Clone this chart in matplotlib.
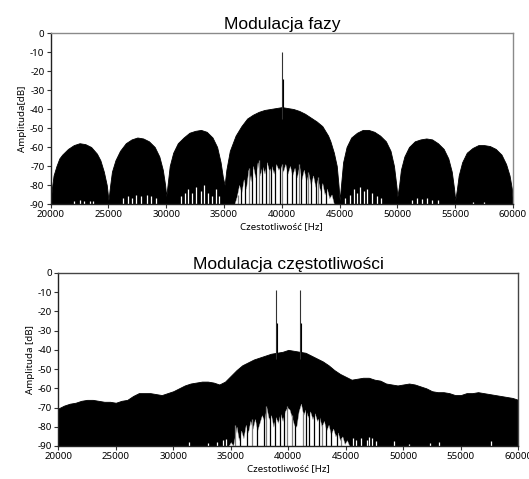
import matplotlib
matplotlib.use("Agg")
import matplotlib.pyplot as plt

plt.rcParams['axes.unicode_minus'] = False

# ---------------- data: phase modulation (top) ----------------
pm_freq = [20000, 20100, 20250, 20500, 20750, 21000, 21500, 22000, 22500, 23000, 23500, 24000, 24300, 24600, 24850, 25000,
           25150, 25300, 25600, 26000, 26500, 27000, 27500, 28000, 28500, 29000, 29400, 29700, 29900, 30000,
           30150, 30300, 30600, 31000, 31500, 32000, 32500, 33000, 33500, 34000, 34400, 34700, 34900, 35050,
           35200, 35500, 36000, 36500, 37000, 37500, 38000, 38500, 39000, 39500, 40000, 40500, 41000, 41500,
           42000, 42500, 43000, 43500, 44000, 44200, 44500, 44750, 44900, 45000,
           45150, 45300, 45600, 46000, 46500, 47000, 47500, 48000, 48500, 49000, 49400, 49700, 49900, 50000,
           50150, 50300, 50600, 51000, 51500, 52000, 52500, 53000, 53500, 54000, 54400, 54700, 54900, 55000,
           55150, 55300, 55600, 56000, 56500, 57000, 57500, 58000, 58500, 59000, 59400, 59700, 59900, 60000]
pm_level = [-90, -82, -75, -70, -66, -64, -61, -59, -58, -58.5, -60, -63.5, -67, -73, -80, -88,
            -80, -73, -67, -62, -58, -56, -55, -55.5, -57, -60, -65, -72, -80, -86,
            -78, -70, -63, -58, -55, -52.5, -51.5, -51, -52, -55, -60, -68, -76, -80,
            -72, -62, -54, -49, -45, -43, -41.5, -40.5, -40, -39.5, -39, -39.5, -40, -41,
            -42.5, -44.5, -46.5, -49, -54, -57, -63, -70, -80, -88,
            -78, -68, -60, -55, -52.5, -51, -51, -52, -54, -57, -62, -70, -80, -86,
            -80, -72, -65, -60, -57, -56, -55.5, -56, -58, -61, -66, -73, -82, -88,
            -82, -75, -68, -63, -60.5, -59, -59, -59.5, -61, -64, -69, -75, -82, -90]

# white gaps at the bottom of the main lobe (upper edge of the white region)
pm_gap_freq = [35900, 36100, 36300, 36500, 36700, 36900, 37100, 37300, 37500, 37700, 37900, 38100, 38300, 38500,
               38700, 38900, 39100, 39300, 39500, 39700, 39900, 40100, 40300, 40500, 40700, 40900, 41100, 41300,
               41500, 41700, 41900, 42100, 42300, 42500, 42700, 42900, 43100, 43300, 43500, 43700, 43900, 44100,
               44300, 44500]
pm_gap_top = [-90, -86, -80, -84, -77, -82, -72, -78, -70, -76, -68, -75, -70, -74,
              -68, -73, -70, -74, -69, -72, -70, -73, -69, -74, -70, -75, -71, -76,
              -70, -77, -72, -78, -74, -80, -75, -81, -77, -83, -79, -85, -82, -87,
              -85, -90]
# black stripes reaching the floor inside the white region
pm_dark_lines = [36450, 36850, 37380, 37750, 38250, 38650, 39050, 39450, 39800, 40450,
                 40850, 41250, 41650, 42050, 42500, 42950, 43400, 43850]
pm_grey_lines = [36200, 37150, 38000, 38850, 40000, 41450, 42250, 43150]

pm_speck_freq = [22000, 22500, 22900, 23400, 23700,
                 26300, 26700, 27000, 27400, 27800, 28300, 28700, 29100,
                 31300, 31600, 31900, 32200, 32600, 33000, 33300, 33600, 34000, 34300, 34600,
                 45500, 45900, 46200, 46500, 46800, 47100, 47400, 47800, 48200, 48600,
                 51300, 51700, 52100, 52600, 53000, 53500, 56500, 57500]
pm_speck_top = [-88.5, -88, -88.5, -88.5, -88.5,
                -87, -86, -87, -85, -86, -85.5, -86, -87,
                -86, -84, -82, -84, -81, -83, -80, -84, -86, -82, -86,
                -87, -85, -82, -84, -81, -83, -82, -84, -86, -87,
                -88, -87, -87.5, -87, -88, -88, -89, -89]

pm_carrier_freq = [40000]
pm_carrier_top = [-10]
pm_carrier_mid = [-24]

# ---------------- data: frequency modulation (bottom) ----------------
fm_freq = [20000, 20500, 21000, 21500, 22000, 22500, 23000, 23500, 24000, 24500, 25000, 25500, 26000, 26500,
           27000, 27500, 28000, 28500, 29000, 29500, 30000, 30500, 31000, 31500, 32000, 32500, 33000, 33500,
           34000, 34500, 35000, 35500, 36000, 36500, 37000, 37500, 38000, 38500, 39000, 39500, 40000, 40500,
           41000, 41500, 42000, 42500, 43000, 43500, 44000, 44500, 45000, 45500, 46000, 46500, 47000, 47500,
           48000, 48500, 49000, 49500, 50000, 50500, 51000, 51500, 52000, 52500, 53000, 53500, 54000, 54500,
           55000, 55500, 56000, 56500, 57000, 57500, 58000, 58500, 59000, 59500, 60000]
fm_level = [-70.5, -69, -68, -67.5, -66.5, -66, -66, -66.5, -67, -67, -67.5, -66.5, -66, -64,
            -62.5, -62.5, -62.5, -63, -63.5, -62.5, -61.5, -60, -58.5, -57.5, -57, -56.5, -56.5, -57,
            -58, -56.5, -53.5, -50.5, -48, -46.5, -45, -44, -43, -42, -41.5, -41, -40, -40.5,
            -41, -41.5, -43, -44.5, -46, -48, -50.5, -52.5, -54, -55.5, -55, -54.5, -54.5, -55.5,
            -56, -57.5, -58, -58.5, -58, -57.5, -58, -59, -60, -61.5, -62, -62, -62.5, -63.5,
            -63.5, -62.5, -62.5, -62, -62.5, -63, -63.5, -64, -64.5, -65, -66]

fm_gap_freq = [34800, 35000, 35200, 35500, 35700, 35900, 36100, 36300, 36500, 36700, 36900, 37100, 37300, 37500,
               37700, 37900, 38100, 38300, 38500, 38700, 38900, 39100, 39300, 39500, 39700, 39900, 40100, 40300,
               40500, 40700, 40900, 41100, 41300, 41500, 41700, 41900, 42100, 42300, 42500, 42700, 42900, 43100,
               43300, 43500, 43700, 43900, 44100, 44300, 44500, 44700, 44900, 45100, 45300]
fm_gap_top = [-90, -88, -90, -80, -87, -82, -86, -79, -83, -77, -81, -76, -82, -78,
              -74, -77, -70, -76, -74, -80, -75, -78, -73, -77, -72, -70, -71, -75,
              -79, -80, -72, -68, -74, -71, -75, -72, -76, -73, -77, -75, -80, -77,
              -82, -79, -84, -81, -85, -83, -87, -85, -89, -87, -90]
fm_dark_lines = [35800, 36400, 37300, 37850, 38400, 38800, 39250, 39650, 40600, 41500,
                 41800, 42200, 42650, 43300, 43750, 44250]
fm_grey_lines = [35400, 36800, 38100, 39900, 40300, 41300, 42900, 44600]

fm_speck_freq = [31400, 33000, 33800, 34300, 34600, 45600, 45900, 46300, 46800, 47000, 47300, 47600,
                 49200, 50500, 52300, 53100, 57600]
fm_speck_top = [-88, -88.5, -88, -87, -86.5, -86, -87, -86, -87, -85.5, -86, -87.5,
                -87.5, -89, -88.5, -88, -87.5]

fm_carrier_freq = [38930, 41050]
fm_carrier_top = [-9, -9]
fm_carrier_mid = [-26, -26]

x_ticks = [20000, 25000, 30000, 35000, 40000, 45000, 50000, 55000, 60000]
y_ticks = [0, -10, -20, -30, -40, -50, -60, -70, -80, -90]
titles = ["Modulacja fazy", "Modulacja częstotliwości"]
ylabels = ["Amplituda[dB]", "Amplituda [dB]"]
xlabel = "Czestotliwość [Hz]"

# ---------------- figure ----------------
fig = plt.figure(figsize=(5.29, 4.79), dpi=100)
ax1 = fig.add_axes([0.0958, 0.5741, 0.874, 0.357])
ax2 = fig.add_axes([0.1102, 0.0689, 0.8696, 0.3612])

panels = [
    (ax1, pm_freq, pm_level, pm_gap_freq, pm_gap_top, pm_dark_lines, pm_grey_lines, pm_speck_freq, pm_speck_top,
     pm_carrier_freq, pm_carrier_top, pm_carrier_mid, '#8a8a8a'),
    (ax2, fm_freq, fm_level, fm_gap_freq, fm_gap_top, fm_dark_lines, fm_grey_lines, fm_speck_freq, fm_speck_top,
     fm_carrier_freq, fm_carrier_top, fm_carrier_mid, '#444444'),
]


def gap_height(gf, gt, x):
    k = min(range(len(gf)), key=lambda j: abs(gf[j] - x))
    return gt[k]


tick_font = dict(family='Noto Sans', size=7)
for i, (ax, f, lv, gf, gt, dl, gl, sf, st, cf, ct, cm, frame_col) in enumerate(panels):
    ax.fill_between(f, -90, lv, color='black', lw=0.6, edgecolor='black')
    ax.fill_between(gf, -90, gt, color='white', lw=0.3, edgecolor='#bbbbbb')
    ax.vlines(dl, -90, -62, color='black', lw=0.9)
    ax.vlines(gl, -90, [gap_height(gf, gt, x) + 1 for x in gl], color='#808080', lw=0.9)
    ax.vlines(sf, -90, st, color='white', lw=0.9)
    for x, t, m in zip(cf, ct, cm):
        ax.vlines(x, -45, t, color='#333333', lw=0.8)
        ax.vlines(x + 60, -45, m, color='black', lw=0.8)
    ax.set_xlim(20000, 60000)
    ax.set_ylim(-90, 0)
    ax.set_xticks(x_ticks)
    ax.set_yticks(y_ticks)
    ax.set_xticklabels([str(v) for v in x_ticks], **tick_font)
    ax.set_yticklabels([str(v) for v in y_ticks], **tick_font)
    ax.tick_params(axis='both', length=3, width=0.8, pad=1.5, color='#333333')
    for s in ['top', 'right']:
        ax.spines[s].set_color(frame_col)
        ax.spines[s].set_linewidth(1.0)
    for s in ['left', 'bottom']:
        ax.spines[s].set_color('#222222')
        ax.spines[s].set_linewidth(1.0)
    ax.set_title(titles[i], family='Liberation Sans', size=12.5, pad=3)
    ax.set_ylabel(ylabels[i], family='Noto Sans', size=7, labelpad=2)
    ax.set_xlabel(xlabel, family='Noto Sans', size=7, labelpad=2)

fig.savefig('out.png', dpi=100)
